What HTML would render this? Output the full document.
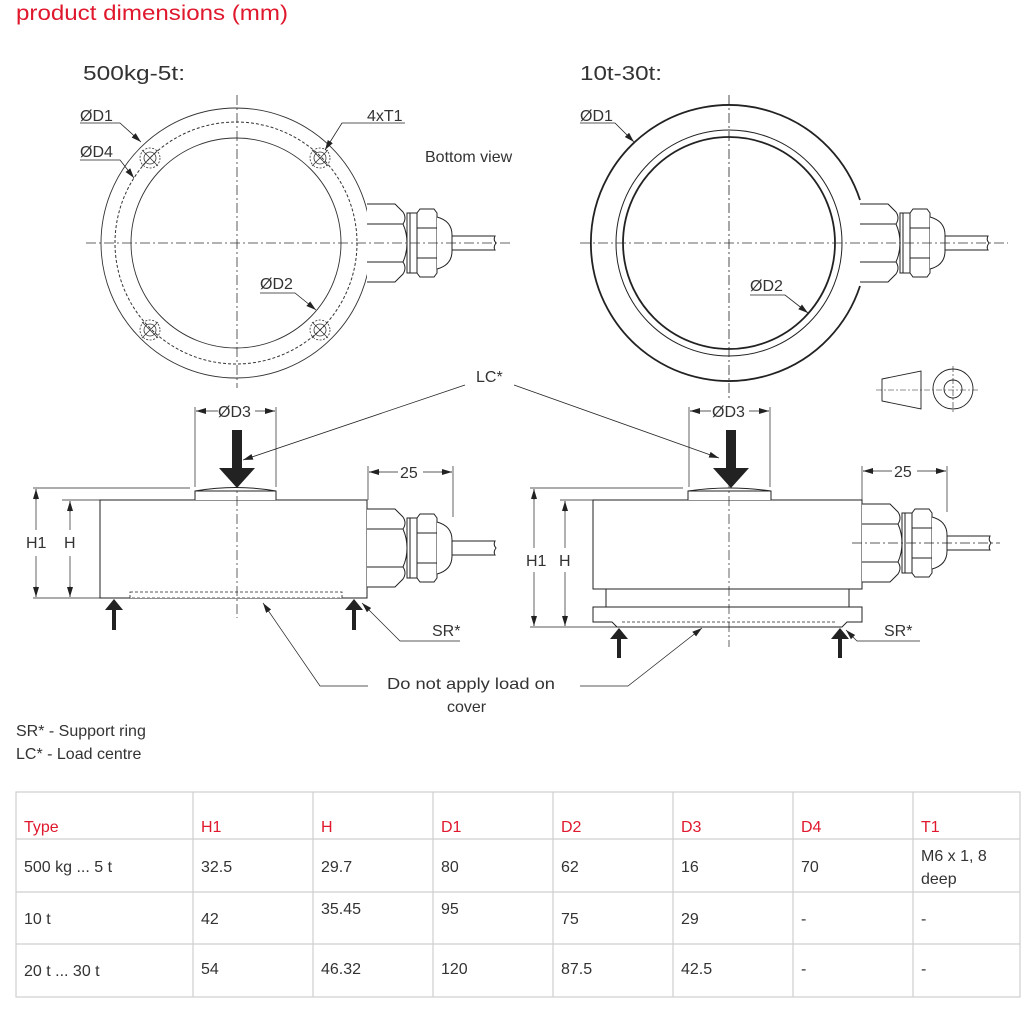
<!DOCTYPE html>
<html><head><meta charset="utf-8"><style>
body{margin:0;background:#fff;}
svg{display:block;font-family:"Liberation Sans",sans-serif;}
</style></head><body>
<svg width="1032" height="1015" viewBox="0 0 1032 1015" xmlns="http://www.w3.org/2000/svg">
<defs>
<marker id="ar" markerWidth="10" markerHeight="8" refX="10" refY="4" orient="auto" markerUnits="userSpaceOnUse"><path d="M0,1 L10,4 L0,7 Z" fill="#222"/></marker>
<marker id="as" markerWidth="10" markerHeight="8" refX="10" refY="4" orient="auto-start-reverse" markerUnits="userSpaceOnUse"><path d="M0,1 L10,4 L0,7 Z" fill="#222"/></marker>
<g id="gland" fill="#fff" stroke="#222" stroke-width="1">
<path d="M0,-39 H28 L36,-31 Q40,-25 36,-19 Q40,-10 40,0 Q40,10 36,19 Q40,25 36,31 L28,39 H0"/>
<path d="M0,-19 H36 M0,19 H36" fill="none"/>
<rect x="40" y="-30" width="10" height="60"/>
<line x1="43" y1="-30" x2="43" y2="30"/>
<path d="M50,-30 L53,-34 H67 L70,-30 V30 L67,34 H53 L50,30 Z"/>
<path d="M50,-15 H70 M50,15 H70"/>
<path d="M70,-26 Q85,-22 85,-8 V8 Q85,22 70,26"/>
<path d="M85,-7 H128 Q126,-3 129,0 Q126,4 128,7 H85 Z"/>
</g>
<g id="hole" fill="none" stroke="#333" stroke-width="0.8">
<circle r="10" stroke-dasharray="2,1.5"/><circle r="6"/>
<path d="M-8,-8 L8,8 M-8,8 L8,-8"/>
</g>
</defs>

<g font-size="16" fill="#333">
<text x="16" y="20" font-size="21" fill="#e0182d" textLength="272" lengthAdjust="spacingAndGlyphs">product dimensions (mm)</text>
<text x="83" y="80" font-size="20" textLength="102" lengthAdjust="spacingAndGlyphs">500kg-5t:</text>
<text x="580" y="80" font-size="20" textLength="82" lengthAdjust="spacingAndGlyphs">10t-30t:</text>
</g>

<!-- LEFT TOP -->
<g stroke="#333" fill="none">
<line x1="237" y1="95" x2="237" y2="388" stroke-width="0.8" stroke-dasharray="10,3,2,3"/>
<circle cx="236" cy="243" r="135" stroke-width="0.9"/>
<circle cx="236" cy="243" r="121" stroke-width="1" stroke-dasharray="3,2"/>
<circle cx="236" cy="243" r="105" stroke-width="0.9"/>
</g>
<use href="#hole" x="150" y="158"/><use href="#hole" x="320" y="158"/>
<use href="#hole" x="150" y="330"/><use href="#hole" x="320" y="330"/>
<use href="#gland" x="367" y="243"/>
<line x1="86" y1="243" x2="512" y2="243" stroke="#333" stroke-width="0.8" stroke-dasharray="10,3,2,3"/>
<g stroke="#222" stroke-width="0.8" fill="none">
<path d="M80,123 H120 L141,142" marker-end="url(#ar)"/>
<path d="M80,160 H120 L134,178" marker-end="url(#ar)"/>
<path d="M405,123 H342 L325,150" marker-end="url(#ar)"/>
<path d="M260,293 H295 L316,310" marker-end="url(#ar)"/>
</g>
<g font-size="16" fill="#333">
<text x="80" y="121">ØD1</text><text x="80" y="157">ØD4</text>
<text x="367" y="121">4xT1</text><text x="260" y="289">ØD2</text>
<text x="425" y="162">Bottom view</text>
</g>

<!-- RIGHT TOP -->
<g stroke="#222" fill="none">
<line x1="729" y1="95" x2="729" y2="398" stroke-width="0.8" stroke-dasharray="10,3,2,3"/>
<path d="M860,200 A138,138 0 1 0 860,286" stroke-width="1.8"/>
<circle cx="729" cy="243" r="113" stroke-width="1"/>
<circle cx="729" cy="243" r="106" stroke-width="1.8"/>
</g>
<use href="#gland" x="860" y="243"/>
<line x1="580" y1="243" x2="1008" y2="243" stroke="#333" stroke-width="0.8" stroke-dasharray="10,3,2,3"/>
<g stroke="#222" stroke-width="0.8" fill="none">
<path d="M580,123 H615 L634,142" marker-end="url(#ar)"/>
<path d="M750,295 H785 L808,313" marker-end="url(#ar)"/>
</g>
<g font-size="16" fill="#333"><text x="580" y="121">ØD1</text><text x="750" y="291">ØD2</text></g>
<!-- tolerance symbol -->
<g stroke="#222" stroke-width="0.9" fill="none">
<path d="M882,379 L921,371 V409 L882,401 Z"/>
<circle cx="953" cy="389" r="20"/><circle cx="953" cy="389" r="9"/>
<g stroke-width="0.6" stroke-dasharray="6,2,2,2"><line x1="876" y1="390" x2="980" y2="390"/><line x1="953" y1="366" x2="953" y2="414"/></g>
</g>

<!-- LC -->
<text x="476" y="382" font-size="16" fill="#333">LC*</text>
<g stroke="#222" stroke-width="0.8" fill="none">
<path d="M465,385 L243,460" marker-end="url(#ar)"/>
<path d="M514,385 L719,458" marker-end="url(#ar)"/>
</g>

<!-- LEFT SIDE -->
<g stroke="#222" stroke-width="1" fill="#fff">
<rect x="100" y="500" width="267" height="98"/>
<path d="M195,500 V491 Q236,484 276,491 V500"/>
<line x1="195" y1="491" x2="276" y2="491"/>
<rect x="130" y="592" width="212" height="6" stroke-dasharray="3,2" stroke-width="0.8"/>
</g>
<use href="#gland" x="367" y="548"/>
<g stroke="#222" stroke-width="0.7" fill="none">
<line x1="237" y1="478" x2="237" y2="618" stroke-dasharray="10,3,2,3"/>
<line x1="195" y1="407" x2="195" y2="487"/><line x1="276" y1="407" x2="276" y2="487"/>
<path d="M196,411 H218 M255,411 H275" /><path d="M196,411 H205" marker-start="url(#as)"/><path d="M265,411 H275" marker-end="url(#ar)"/>
<line x1="33" y1="488" x2="190" y2="488"/><line x1="62" y1="500" x2="100" y2="500"/>
<line x1="33" y1="598" x2="100" y2="598"/>
<path d="M36,489 V530 M36,556 V597"/><path d="M36,489 V500" marker-start="url(#as)"/><path d="M36,586 V597" marker-end="url(#ar)"/>
<path d="M70,501 V530 M70,556 V597"/><path d="M70,501 V512" marker-start="url(#as)"/><path d="M70,586 V597" marker-end="url(#ar)"/>
<line x1="368" y1="466" x2="368" y2="500"/><line x1="453" y1="466" x2="453" y2="517"/>
<path d="M369,472 H398 M423,472 H452"/><path d="M369,472 H380" marker-start="url(#as)"/><path d="M441,472 H452" marker-end="url(#ar)"/>
<path d="M460,641 H400 L362,603" marker-end="url(#ar)"/>
<path d="M368,686 H320 L263,603" marker-end="url(#ar)"/>
</g>
<path d="M232,430 H242 V468 H255 L237,488 L219,468 H232 Z" fill="#222"/>
<path d="M112,630 V610 H105 L114,599 L123,610 H116 V630 Z" fill="#222"/>
<path d="M352,630 V610 H345 L354,599 L363,610 H356 V630 Z" fill="#222"/>
<g font-size="16" fill="#333">
<text x="218" y="417">ØD3</text><text x="400" y="478">25</text>
<text x="26" y="548">H1</text><text x="64" y="548">H</text>
<text x="432" y="636">SR*</text>
<text x="387" y="689" textLength="168" lengthAdjust="spacingAndGlyphs">Do not apply load on</text><text x="447" y="712">cover</text>
</g>

<!-- RIGHT SIDE -->
<g stroke="#222" stroke-width="1" fill="#fff">
<rect x="593" y="500" width="269" height="89"/>
<path d="M688,500 V491 Q729,485 771,491 V500"/>
<line x1="688" y1="491" x2="771" y2="491"/>
<path d="M606,589 V607 M849,589 V607"/>
<path d="M593,607 H862 V622 H847 L842,627 H617 L612,622 H593 Z"/>
<line x1="622" y1="622" x2="836" y2="622" stroke-dasharray="3,2" stroke-width="0.8"/>
</g>
<use href="#gland" x="862" y="543"/>
<g stroke="#222" stroke-width="0.7" fill="none">
<line x1="729" y1="478" x2="729" y2="647" stroke-dasharray="10,3,2,3"/>
<line x1="852" y1="543" x2="1000" y2="543" stroke-dasharray="10,3,2,3"/>
<line x1="689" y1="407" x2="689" y2="487"/><line x1="770" y1="407" x2="770" y2="487"/>
<path d="M690,411 H711 M749,411 H769"/><path d="M690,411 H700" marker-start="url(#as)"/><path d="M759,411 H769" marker-end="url(#ar)"/>
<line x1="530" y1="488" x2="683" y2="488"/><line x1="560" y1="500" x2="593" y2="500"/>
<line x1="530" y1="627" x2="617" y2="627"/>
<path d="M534,489 V548 M534,572 V626"/><path d="M534,489 V500" marker-start="url(#as)"/><path d="M534,615 V626" marker-end="url(#ar)"/>
<path d="M565,501 V548 M565,572 V626"/><path d="M565,501 V512" marker-start="url(#as)"/><path d="M565,615 V626" marker-end="url(#ar)"/>
<line x1="862" y1="466" x2="862" y2="500"/><line x1="947" y1="466" x2="947" y2="512"/>
<path d="M863,471 H892 M917,471 H946"/><path d="M863,471 H874" marker-start="url(#as)"/><path d="M935,471 H946" marker-end="url(#ar)"/>
<path d="M920,641 H857 L846,630" marker-end="url(#ar)"/>
<path d="M580,686 H628 L702,628" marker-end="url(#ar)"/>
</g>
<path d="M726,430 H736 V468 H749 L731,488 L713,468 H726 Z" fill="#222"/>
<path d="M617,658 V639 H610 L619,628 L628,639 H621 V658 Z" fill="#222"/>
<path d="M838,658 V639 H831 L840,628 L849,639 H842 V658 Z" fill="#222"/>
<g font-size="16" fill="#333">
<text x="712" y="417">ØD3</text><text x="894" y="477">25</text>
<text x="526" y="566">H1</text><text x="559" y="566">H</text>
<text x="884" y="636">SR*</text>
</g>

<g font-size="16" fill="#333">
<text x="16" y="736">SR* - Support ring</text>
<text x="16" y="759">LC* - Load centre</text>
</g>

<!-- TABLE -->
<g stroke="#cfcfcf" stroke-width="1.2" fill="none">
<rect x="16" y="792" width="1004" height="205"/>
<path d="M16,839 H1020 M16,892 H1020 M16,944 H1020"/>
<path d="M193,792 V997 M313,792 V997 M433,792 V997 M553,792 V997 M673,792 V997 M793,792 V997 M913,792 V997"/>
</g>
<g font-size="16" fill="#e0182d">
<text x="24" y="832">Type</text><text x="201" y="832">H1</text><text x="321" y="832">H</text><text x="441" y="832">D1</text>
<text x="561" y="832">D2</text><text x="681" y="832">D3</text><text x="801" y="832">D4</text><text x="921" y="832">T1</text>
</g>
<g font-size="16" fill="#333">
<text x="24" y="872">500 kg ... 5 t</text><text x="201" y="872">32.5</text><text x="321" y="872">29.7</text><text x="441" y="872">80</text>
<text x="561" y="872">62</text><text x="681" y="872">16</text><text x="801" y="872">70</text>
<text x="921" y="861">M6 x 1, 8</text><text x="921" y="884">deep</text>
<text x="24" y="924">10 t</text><text x="201" y="924">42</text><text x="321" y="914">35.45</text><text x="441" y="914">95</text>
<text x="561" y="924">75</text><text x="681" y="924">29</text><text x="801" y="924">-</text><text x="921" y="924">-</text>
<text x="24" y="976">20 t ... 30 t</text><text x="201" y="974">54</text><text x="321" y="974">46.32</text><text x="441" y="974">120</text>
<text x="561" y="974">87.5</text><text x="681" y="974">42.5</text><text x="801" y="974">-</text><text x="921" y="974">-</text>
</g>
</svg>
</body></html>
